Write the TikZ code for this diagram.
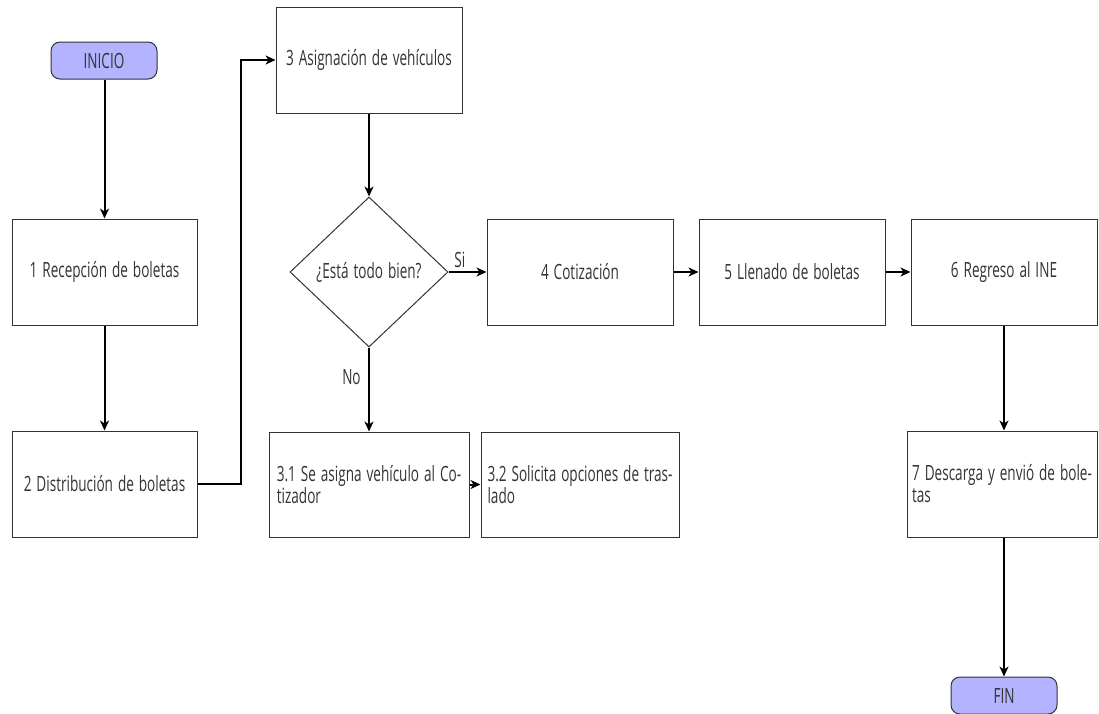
\documentclass[tikz,border=0pt]{standalone}
\usepackage{fontspec}
\setmainfont{Open Sans}[FakeStretch=0.646,WordSpace=1.4]
\usetikzlibrary{shapes.geometric,arrows.meta}
\definecolor{term}{HTML}{B3B3FF}
\definecolor{edge}{HTML}{333333}
\begin{document}
\begin{tikzpicture}[x=1pt,y=-1pt,
  every node/.style={font=\fontsize{21}{22}\selectfont, text=edge},
  box/.style={draw=edge, line width=1pt, rectangle, inner sep=0pt, minimum width=186pt, minimum height=106pt, align=center},
  wbox/.style={draw=edge, line width=1pt, rectangle, inner sep=0pt, minimum height=105pt, align=left},
  term/.style={draw=edge, line width=1pt, rectangle, rounded corners=9pt, fill=term, minimum width=106pt, minimum height=37pt, inner sep=0pt},
  dec/.style={draw=edge, line width=1pt, diamond, inner sep=0pt, minimum width=158pt, minimum height=150pt, aspect=1.05},
  arr/.style={draw=black, line width=2pt, -{Stealth[length=10pt,width=9pt,inset=3pt]}},
  lbl/.style={font=\fontsize{21}{22}\selectfont}]
\useasboundingbox (0,0) rectangle (1099,713);
\node[term] (inicio) at (104,60.5) {INICIO};
\node[box, minimum width=185pt] (b1) at (104.5,272) {1 Recepción de boletas};
\node[box, minimum width=185pt] (b2) at (104.5,484) {2 Distribución de boletas};
\node[box] (b3) at (369,60) {3 Asignación de vehículos};
\node[dec] (d) at (369,272) {¿Está todo bien?};
\node[box] (b4) at (580,272) {4 Cotización};
\node[box] (b5) at (792,272) {5 Llenado de boletas};
\node[box] (b6) at (1004,272) {6 Regreso al INE};
\node[wbox, minimum width=200pt] (b31) at (369,484.5) {3.1 Se asigna vehículo al Co-\\tizador};
\node[wbox, minimum width=198pt] (b32) at (580,484.5) {3.2 Solicita opciones de tras-\\lado};
\node[wbox, minimum width=190pt, minimum height=106pt] (b7) at (1002,484) {7 Descarga y envió de bole-\\tas};
\node[term] (fin) at (1004,695.5) {FIN};

\draw[arr] (inicio.south -| b1.north) -- (b1.north);
\draw[arr] (b1.south) -- (b2.north);
\draw[arr] (b2.east) -- ++(43,0) |- (b3.west);
\draw[arr] (b3.south) -- (d.north);
\draw[arr] (d.east) -- node[lbl, above, pos=0.3] (si) {Si} (b4.west);
\draw[arr] (d.south) -- node[lbl, left, pos=0.35, xshift=-4pt] (no) {No} (b31.north);
\draw[arr] (b31.east) -- (b32.west);
\draw[arr] (b4.east) -- (b5.west);
\draw[arr] (b5.east) -- (b6.west);
\draw[arr] (b6.south) -- (b6.south |- b7.north);
\draw[arr] (b7.south -| b6.south) -- (fin.north);
\end{tikzpicture}
\end{document}
